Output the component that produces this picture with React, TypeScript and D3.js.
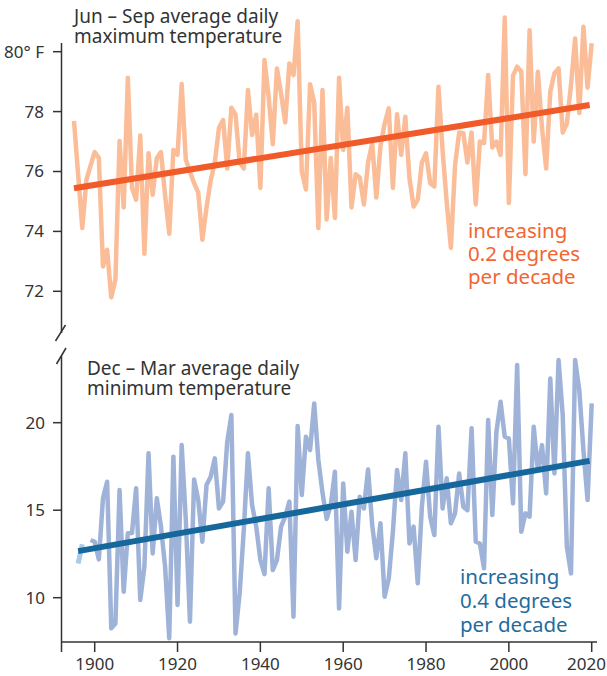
import React from "react";
import * as d3 from "d3";

// ---------- data ----------
const summerStartYear = 1895;
const summerMax = [
  77.69, 75.9, 74.11, 75.72, 76.2, 76.65, 76.45, 72.83, 73.39, 71.8,
  72.39, 77.02, 74.8, 79.13, 75.45, 75.06, 77.2, 73.25, 76.61, 75.22,
  76.45, 76.65, 75.2, 73.92, 76.72, 76.56, 78.92, 76.39, 76.0, 75.61,
  75.3, 73.72, 74.8, 75.7, 76.3, 77.45, 77.72, 76.1, 78.13, 77.9,
  76.3, 76.1, 78.72, 77.22, 77.9, 75.45, 79.72, 78.5, 76.91, 79.44,
  78.6, 77.64, 79.61, 79.22, 81.02, 76.0, 75.4, 78.91, 78.3, 74.11,
  78.72, 74.4, 76.45, 74.45, 79.13, 76.72, 78.13, 74.8, 75.91, 75.8,
  74.9, 76.3, 76.95, 75.13, 76.85, 77.6, 78.11, 75.45, 77.91, 76.56,
  77.83, 75.77, 74.83, 75.06, 76.3, 76.61, 75.61, 75.5, 78.83, 76.7,
  74.95, 73.45, 76.2, 77.3, 77.28, 76.3, 77.3, 74.9, 77.0, 76.95,
  79.22, 76.8, 77.0, 76.55, 81.14, 74.95, 79.2, 79.5, 79.33, 75.91,
  80.72, 77.0, 79.33, 77.45, 76.1, 78.67, 79.28, 79.44, 77.3, 77.6,
  78.9, 80.44, 77.95, 80.83, 78.8, 80.28,
];
const summerTrend: [number, number][] = [
  [1895, 75.44],
  [2019.5, 78.22],
];

const winterEarlyYears = [1896, 1897];
const winterEarly = [11.95, 13.05];
const winterStartYear = 1899;
const winterMin = [
  13.3, 13.2, 12.19, 15.68, 16.63, 8.25, 8.53, 16.15, 10.34, 13.68,
  13.7, 16.25, 9.87, 11.77, 18.25, 12.53, 15.68, 14.06, 11.77, 7.68,
  18.06, 9.58, 18.72, 14.44, 8.63, 16.76, 15.58, 13.2, 16.44, 16.91,
  17.96, 15.1, 15.49, 18.91, 20.44, 7.96, 10.25, 13.87, 18.25, 15.3,
  14.06, 12.15, 11.35, 16.25, 11.58, 12.15, 14.06, 14.63, 15.49, 8.91,
  19.81, 15.87, 19.2, 18.44, 21.1, 17.87, 16.0, 14.5, 15.3, 17.2,
  9.39, 16.53, 12.63, 14.91, 12.15, 15.77, 15.1, 17.33, 14.15, 12.25,
  14.25, 10.06, 11.1, 13.77, 17.3, 15.58, 18.25, 13.1, 14.06, 10.82,
  15.2, 17.77, 14.63, 13.58, 19.77, 15.1, 16.82, 14.25, 14.82, 17.1,
  15.2, 15.0, 19.68, 13.2, 13.1, 11.68, 20.15, 14.72, 19.49, 21.2,
  19.2, 19.1, 15.39, 23.3, 13.77, 14.82, 14.63, 19.77, 17.3, 18.72,
  15.96, 22.53, 17.1, 23.58, 20.44, 12.91, 11.39, 23.58, 21.87, 18.44,
  15.58, 21.1,
];
const winterTrend: [number, number][] = [
  [1896, 12.66],
  [2019.5, 17.82],
];

const xTicks = [1900, 1920, 1940, 1960, 1980, 2000, 2020];
const topTicks = [72, 74, 76, 78, 80];
const topTickLabels = ["72", "74", "76", "78", "80° F"];
const botTicks = [10, 15, 20];
const botTickLabels = ["10", "15", "20"];

const topTitle = ["Jun – Sep average daily", "maximum temperature"];
const botTitle = ["Dec – Mar average daily", "minimum temperature"];
const topNote = ["increasing", "0.2 degrees", "per decade"];
const botNote = ["increasing", "0.4 degrees", "per decade"];

// ---------- layout ----------
const W = 607;
const H = 676;
const FONT = "'Noto Sans', sans-serif";
const TEXT = "#333333";

export default function App() {
  const x = d3.scaleLinear().domain([1900, 2020]).range([94.7, 591.7]);
  const yTop = d3.scaleLinear().domain([72, 80]).range([291.3, 51.7]);
  const yBot = d3.scaleLinear().domain([10, 20]).range([597.7, 422.7]);

  const axisX = 61.5;
  const baseY = 642;

  const summerPts: [number, number][] = summerMax.map((v, i) => [summerStartYear + i, v]);
  const winterPts: [number, number][] = winterMin.map((v, i) => [winterStartYear + i, v]);
  const earlyPts: [number, number][] = winterEarly.map((v, i) => [winterEarlyYears[i], v]);

  const lineTop = d3.line<[number, number]>().x((d) => x(d[0])).y((d) => yTop(d[1]));
  const lineBot = d3.line<[number, number]>().x((d) => x(d[0])).y((d) => yBot(d[1]));

  const lastTick = xTicks[xTicks.length - 1];

  return (
    <svg
      width={W}
      height={H}
      style={{ position: "absolute", left: 0, top: 0, background: "#fff" }}
      fontFamily={FONT}
    >
      {/* data lines */}
      <path d={lineTop(summerPts) || ""} fill="none" stroke="#fbbd98" strokeWidth={4.5} strokeLinejoin="round" />
      <path d={lineBot(earlyPts) || ""} fill="none" stroke="#a9cbe6" strokeWidth={5} />
      <path d={lineBot(winterPts) || ""} fill="none" stroke="#9fb3d9" strokeWidth={4.5} strokeLinejoin="round" />

      {/* trends */}
      <path d={lineTop(summerTrend) || ""} fill="none" stroke="#f15a29" strokeWidth={6} />
      <path d={lineBot(winterTrend) || ""} fill="none" stroke="#16679c" strokeWidth={6} />

      {/* axes */}
      <g stroke={TEXT} strokeWidth={1.5} fill="none">
        <line x1={axisX} x2={axisX} y1={43} y2={333} />
        <line x1={axisX} x2={axisX} y1={356} y2={652} />
        <line x1={55.5} y1={341} x2={65.5} y2={325} />
        <line x1={56.5} y1={364} x2={66} y2={348} />
        {topTicks.map((t) => (
          <line key={"tt" + t} x1={53} x2={axisX} y1={yTop(t)} y2={yTop(t)} />
        ))}
        {botTicks.map((t) => (
          <line key={"bt" + t} x1={53} x2={axisX} y1={yBot(t)} y2={yBot(t)} />
        ))}
        <line x1={axisX} x2={597} y1={baseY} y2={baseY} />
        {xTicks.map((t) => (
          <line key={"xt" + t} x1={x(t)} x2={x(t)} y1={baseY} y2={baseY + 10} />
        ))}
      </g>

      {/* tick labels */}
      <g fill={TEXT} fontSize={17}>
        {topTicks.map((t, i) => (
          <text key={"tl" + t} x={44} y={yTop(t)} dy="0.35em" textAnchor="end">
            {topTickLabels[i]}
          </text>
        ))}
        {botTicks.map((t, i) => (
          <text key={"bl" + t} x={45} y={yBot(t)} dy="0.35em" textAnchor="end">
            {botTickLabels[i]}
          </text>
        ))}
        {xTicks.map((t) =>
          t === lastTick ? (
            <text key={"xl" + t} x={W - 1} y={670} textAnchor="end">
              {t}
            </text>
          ) : (
            <text key={"xl" + t} x={x(t)} y={670} textAnchor="middle">
              {t}
            </text>
          )
        )}
      </g>

      {/* titles */}
      <g fill={TEXT} fontSize={19}>
        {topTitle.map((s, i) => (
          <text key={"t" + i} x={74} y={22.7 + i * 20}>
            {s}
          </text>
        ))}
        {botTitle.map((s, i) => (
          <text key={"b" + i} x={87} y={375 + i * 20}>
            {s}
          </text>
        ))}
      </g>

      {/* annotations */}
      <g fontSize={20.5}>
        {topNote.map((s, i) => (
          <text key={"n" + i} x={468} y={237.5 + i * 23} fill="#f26532">
            {s}
          </text>
        ))}
        {botNote.map((s, i) => (
          <text key={"m" + i} x={460} y={584 + i * 24} fill="#1f6c9e">
            {s}
          </text>
        ))}
      </g>
    </svg>
  );
}
